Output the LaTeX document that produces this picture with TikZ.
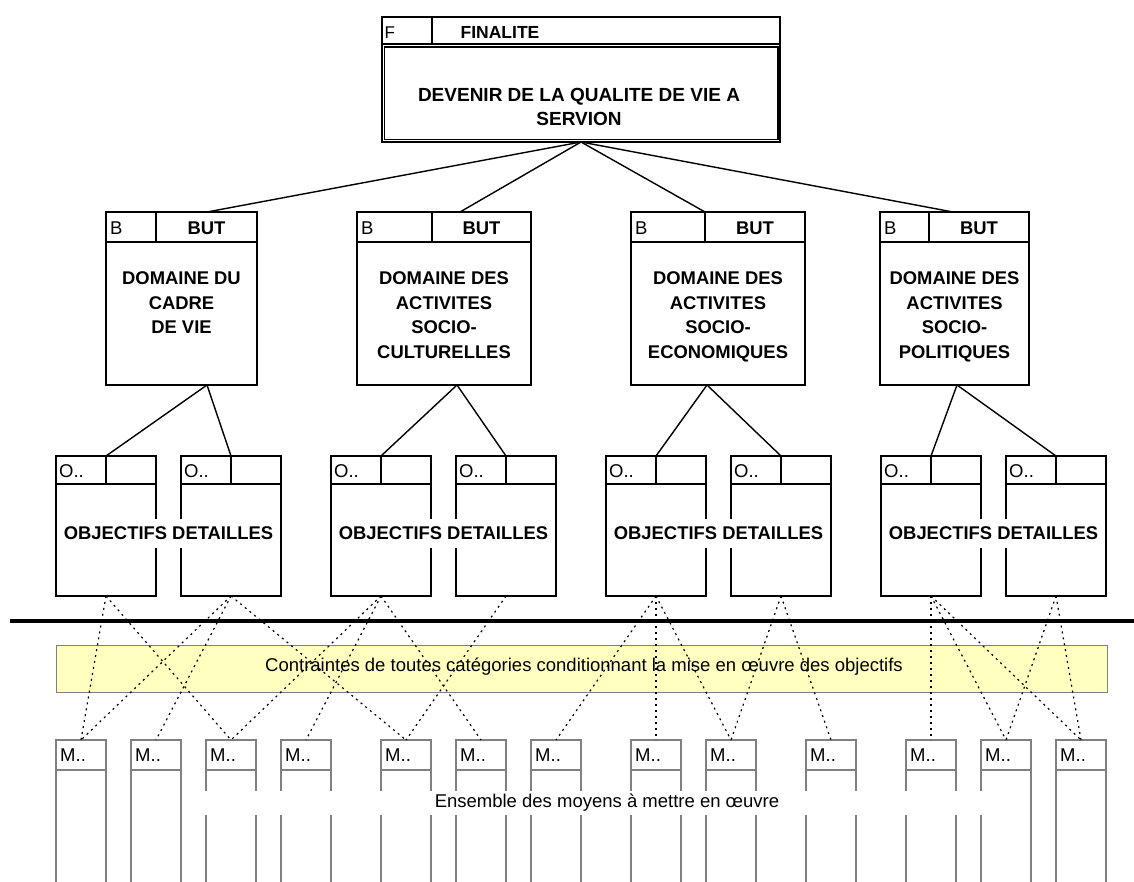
\documentclass[tikz,border=0pt]{standalone}
\usepackage{fontspec}
\setmainfont{Liberation Sans}
\definecolor{mgray}{HTML}{808080}
\definecolor{cyellow}{HTML}{FFFFC0}
\begin{document}
\begin{tikzpicture}[x=1pt,y=-1pt,
  box/.style={draw=black, line width=1.5pt, inner sep=0pt, outer sep=0pt, anchor=north west},
  butbox/.style={box, minimum height=173pt},
  obox/.style={box, minimum width=100pt, minimum height=140pt},
  mbox/.style={draw=mgray, line width=1.4pt, inner sep=0pt, outer sep=0pt, minimum width=50pt, minimum height=30pt, anchor=north west},
  mline/.style={draw=mgray, line width=1.4pt},
  lbl/.style={font=\fontsize{18.5}{22}\selectfont, inner sep=0pt, anchor=west},
  bld/.style={font=\fontsize{18.4}{24.5}\selectfont\bfseries, inner sep=0pt, align=center},
  conn/.style={line width=1.4pt},
  dots/.style={line width=1.2pt, dash pattern=on 2pt off 4pt},
]
\useasboundingbox (0,0) rectangle (1134,881);

% ---------------- top box
\node[box, line width=1.1pt, minimum width=398pt, minimum height=125pt] (F) at (382,17) {};
\coordinate (Fh1) at (382,44); \coordinate (Fh2) at (780,44);
\draw[line width=1.1pt] (Fh1) -- (Fh2);
\coordinate (Fd1) at (432,17); \coordinate (Fd2) at (432,44);
\draw[line width=1.1pt] (Fd1) -- (Fd2);
\node[box, line width=1.1pt, minimum width=393.5pt, minimum height=92.5pt] (Fin) at (384.5,47) {};
\node[lbl, font=\fontsize{17}{20}\selectfont] (Fl) at (384.5,33) {F};
\node[bld, font=\fontsize{17.5}{22}\selectfont\bfseries] (Ft) at (500,32.5) {FINALITE};
\node[bld, font=\fontsize{19}{24}\selectfont\bfseries] (Ftxt) at (579,107) {DEVENIR DE LA QUALITE DE VIE A\\SERVION};

% ---------------- BUT boxes
\foreach \n/\x/\w/\d/\c in {1/106/151/156/206.5, 2/357/174/432/481.5, 3/631/174/705/755, 4/880/149/929/979}{
  \node[butbox, minimum width=\w pt] (B\n) at (\x,212) {};
  \draw[line width=1.5pt] (\x,242) -- (\x+\w,242);
  \draw[line width=1.5pt] (\d,212) -- (\d,242);
  \node[lbl] (Bl\n) at (\x+4,228) {B};
  \node[bld] (Bt\n) at (\c,228) {BUT};
}
\node[bld, anchor=north] (Bx1) at (181.5,271.5) {DOMAINE DU\\CADRE\\DE VIE};
\node[bld, anchor=north] (Bx2) at (444,271.5) {DOMAINE DES\\ACTIVITES\\SOCIO-\\CULTURELLES};
\node[bld, anchor=north] (Bx3) at (718,271.5) {DOMAINE DES\\ACTIVITES\\SOCIO-\\ECONOMIQUES};
\node[bld, anchor=north] (Bx4) at (954.5,271.5) {DOMAINE DES\\ACTIVITES\\SOCIO-\\POLITIQUES};

% connection points on BUT boxes
\coordinate (B1t) at (207,212); \coordinate (B1b) at (207,385);
\coordinate (B2t) at (460,212); \coordinate (B2b) at (457,385);
\coordinate (B3t) at (705,212); \coordinate (B3b) at (707,385);
\coordinate (B4t) at (953,212); \coordinate (B4b) at (957,385);

\foreach \n in {1,2,3,4}{ \draw[conn] (F.south) -- (B\n t); }

% ---------------- objective boxes
\foreach \n/\x in {1/56,2/181,3/331,4/456,5/606,6/731,7/881,8/1006}{
  \node[obox] (O\n) at (\x,456) {};
  \draw[line width=1.5pt] (\x,484) -- (\x+100,484);
  \draw[line width=1.5pt] (O\n.north) -- (\x+50,484);
  \node[lbl] (Ol\n) at (\x+3,471.5) {O..};
}
\draw[conn] (B1b) -- (O1.north); \draw[conn] (B1b) -- (O2.north);
\draw[conn] (B2b) -- (O3.north); \draw[conn] (B2b) -- (O4.north);
\draw[conn] (B3b) -- (O5.north); \draw[conn] (B3b) -- (O6.north);
\draw[conn] (B4b) -- (O7.north); \draw[conn] (B4b) -- (O8.north);

\foreach \n/\x in {1/168.5,2/443.5,3/718.5,4/993.5}{
  \node[bld, fill=white, inner xsep=2pt, minimum height=29pt] (Od\n) at (\x,533.5) {OBJECTIFS DETAILLES};
}

% ---------------- separator line
\coordinate (S1) at (10,621); \coordinate (S2) at (1134,621);
\draw[line width=3.5pt] (S1) -- (S2);

% ---------------- constraints band
\node[draw=mgray, line width=1.4pt, fill=cyellow, minimum width=1051pt, minimum height=47pt, inner sep=0pt, anchor=north west] (C) at (56,645) {};
\node[lbl, anchor=center] (Ct) at (584,667) {Contraintes de toutes catégories conditionnant la mise en œuvre des objectifs};

% ---------------- means boxes
\foreach \n/\x in {1/56,2/131,3/206,4/281,5/381,6/456,7/531,8/631,9/706,10/806,11/906,12/981,13/1056}{
  \node[mbox] (M\n) at (\x,740) {};
  \node[lbl] (Ml\n) at (\x+4,755) {M..};
  \draw[mline] (M\n.south west) -- ++(0,112);
  \draw[mline] (M\n.south east) -- ++(0,112);
}
\node[fill=white, minimum width=820pt, minimum height=24pt, inner sep=0pt] (Ebg) at (600,803) {};
\node[lbl, anchor=center] (E) at (607,803) {Ensemble des moyens à mettre en œuvre};

% ---------------- dotted links
\draw[dots] (O1.south) -- (M1.north);
\draw[dots] (O1.south) -- (M3.north);
\draw[dots] (O2.south) -- (M1.north);
\draw[dots] (O2.south) -- (M2.north);
\draw[dots] (O2.south) -- (M5.north);
\draw[dots] (O3.south) -- (M3.north);
\draw[dots] (O3.south) -- (M4.north);
\draw[dots] (O3.south) -- (M6.north);
\draw[dots] (O4.south) -- (M5.north);
\draw[dots] (O5.south) -- (M7.north);
\draw[dots] (O5.south) -- (M8.north);
\draw[dots] (O5.south) -- (M9.north);
\draw[dots] (O6.south) -- (M9.north);
\draw[dots] (O6.south) -- (M10.north);
\draw[dots] (O7.south) -- (M11.north);
\draw[dots] (O7.south) -- (M12.north);
\draw[dots] (O7.south) -- (M13.north);
\draw[dots] (O8.south) -- (M12.north);
\draw[dots] (O8.south) -- (M13.north);
\end{tikzpicture}
\end{document}
